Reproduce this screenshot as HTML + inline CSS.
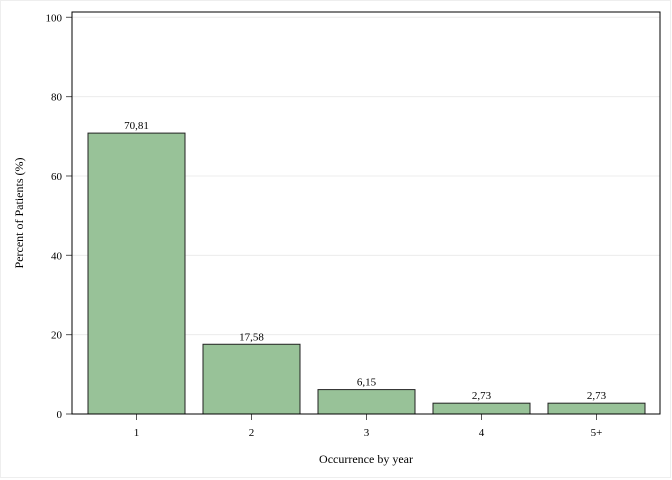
<!DOCTYPE html>
<html><head><meta charset="utf-8"><style>
body{margin:0;background:#fff;}
svg{display:block;font-family:"Liberation Serif",serif;}
</style></head><body>
<svg id="c" width="672" height="480">
<rect x="0.5" y="0.5" width="670" height="477" fill="#fff" stroke="#eee"/>
<g id="grid"></g><g id="bars"></g><g id="axes"></g>
<rect x="72" y="12" width="588" height="402" fill="none" stroke="#000"/>
<text x="366" y="463" font-size="12" text-anchor="middle">Occurrence by year</text>
<text transform="translate(23,213) rotate(-90)" font-size="12" text-anchor="middle">Percent of Patients (%)</text>
</svg>
<script>
const categories=["1","2","3","4","5+"];
const values=[70.81,17.58,6.15,2.73,2.73];
const valueLabels=["70,81","17,58","6,15","2,73","2,73"];
const yTicks=[0,20,40,60,80,100];
const NS="http://www.w3.org/2000/svg";
const y=v=>414-v*3.967;
const x=i=>136.5+i*115;
function mk(t,a,p){const e=document.createElementNS(NS,t);for(const k in a)e.setAttribute(k,a[k]);p.appendChild(e);return e;}
const grid=document.getElementById('grid'),bars=document.getElementById('bars'),axes=document.getElementById('axes');
yTicks.forEach(t=>{
 if(t>0){const g=mk('line',{x1:72,x2:660,y1:y(t),y2:y(t),stroke:'#ececec'},grid);
 
 }
 const tk=mk('line',{x1:66,x2:72,y1:y(t),y2:y(t),stroke:'#555'},axes);
 
 
 const l=mk('text',{x:62,y:y(t)+4,'font-size':11,'text-anchor':'end'},axes);l.textContent=t;
 
 
});
categories.forEach((c,i)=>{
 const b=mk('rect',{x:x(i)-48.5,y:y(values[i]),width:97,height:414-y(values[i]),fill:'#98c298',stroke:'#222'},bars);
 
 
 const v=mk('text',{x:x(i),y:y(values[i])-4,'font-size':11,'text-anchor':'middle'},bars);v.textContent=valueLabels[i];
 
 
 const tk=mk('line',{x1:x(i),x2:x(i),y1:414,y2:420,stroke:'#555'},axes);
 
 
 const l=mk('text',{x:x(i),y:436,'font-size':11,'text-anchor':'middle'},axes);l.textContent=c;
 
 
});
</script>
</body></html>
